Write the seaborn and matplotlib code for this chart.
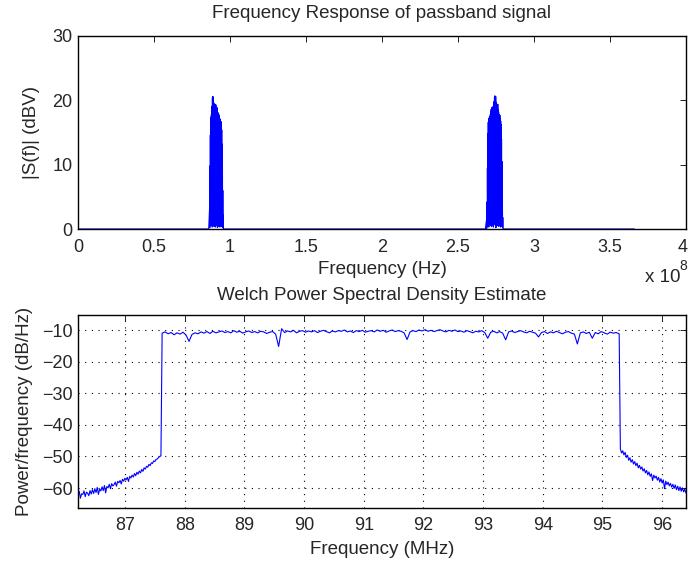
import numpy as np
import pandas as pd
import seaborn as sns
import matplotlib.pyplot as plt
from matplotlib.transforms import ScaledTranslation

sns.set_style('white')
plt.rcParams['font.family'] = ['Liberation Sans', 'DejaVu Sans']
plt.rcParams['font.size'] = 13.5

BLUE = '#0000ff'

# --- top panel: magnitude spectrum of the passband signal (freq in units of 1e8 Hz) ---
band1_f = np.linspace(0.866, 0.956, 80)
band1_hi = [3.5, 9.8, 14.6, 16.9, 17.4, 17.8, 18.3, 19.1, 20.4, 20.6, 20.1, 20.5, 19.6, 19.2,
            18.7, 19.4, 18.5, 18.9, 19.3, 18.8, 18.2, 18.9, 18.6, 17.8, 18.1, 17.5, 17.9, 17.2,
            17.6, 17.0, 16.8, 17.1, 16.5, 16.7, 16.1, 15.4, 13.2, 10.1, 6.0, 2.2]
band1_lo = [0.2, 0.8, 1.9, 0.5, 2.8, 0.9, 1.4, 0.3, 2.5, 1.1, 0.6, 2.2, 0.4, 1.7, 0.9, 2.9,
            0.3, 1.2, 0.7, 2.4, 0.5, 1.5, 0.2, 2.0, 1.0, 0.4, 2.6, 0.8, 1.3, 0.3, 1.9, 0.6,
            1.1, 0.4, 1.6, 0.7, 0.3, 0.9, 0.2, 0.1]

band2_f = np.linspace(2.688, 2.796, 80)
band2_hi = [1.5, 4.2, 9.5, 14.8, 16.6, 17.2, 17.0, 17.5, 17.3, 17.8, 18.2, 18.6, 18.4, 18.9,
            18.5, 19.0, 18.7, 19.2, 19.8, 20.4, 20.7, 20.1, 20.6, 19.7, 19.3, 19.0, 18.8, 19.4,
            18.6, 18.2, 17.8, 17.5, 17.7, 17.1, 16.8, 16.2, 14.0, 10.5, 5.8, 1.8]
band2_lo = [0.1, 0.4, 1.2, 0.6, 2.1, 0.3, 1.6, 0.8, 2.7, 0.5, 1.0, 2.3, 0.4, 1.8, 0.7, 2.5,
            0.3, 1.4, 0.9, 2.0, 0.6, 1.7, 0.2, 2.4, 0.8, 0.5, 2.9, 0.7, 1.1, 0.4, 2.2, 0.6,
            1.3, 0.3, 1.5, 0.8, 0.4, 0.6, 0.2, 0.1]

base_f = [0.0, 0.86, 0.96, 2.68, 2.80, 3.66]

# --- bottom panel: Welch PSD estimate (MHz, dB/Hz) ---
skirt_l_f = np.linspace(86.21, 87.60, 70)
skirt_l = [-62.5, -61.0, -63.2, -61.8, -62.0, -60.9, -62.7, -61.3, -61.6, -62.4,
           -60.8, -61.9, -60.5, -61.7, -60.2, -61.4, -59.8, -62.0, -60.3, -60.9,
           -59.6, -60.8, -59.2, -61.5, -59.5, -59.9, -58.8, -60.2, -58.6, -59.3,
           -58.9, -58.1, -59.4, -57.9, -58.3, -57.6, -58.7, -57.2, -57.8, -56.9,
           -57.4, -56.6, -57.9, -56.3, -56.8, -55.9, -56.5, -55.4, -56.1, -55.0,
           -55.6, -54.6, -55.2, -54.1, -54.7, -53.6, -54.0, -53.1, -53.4, -52.5,
           -52.9, -52.0, -52.2, -51.4, -51.6, -50.9, -50.8, -50.3, -50.0, -49.8]

pass_f = np.linspace(87.62, 95.28, 154)
passband = [-11.0, -10.6, -11.2, -10.8, -11.5, -10.9, -11.3, -10.7, -11.6, -13.6,
            -11.4, -10.9, -11.2, -10.6, -11.0, -10.5, -11.1, -10.4, -10.9, -10.6,
            -10.3, -10.8, -10.5, -10.9, -10.2, -10.7, -10.4, -11.0, -10.6, -10.3,
            -10.8, -10.5, -10.9, -10.4, -10.6, -11.1, -10.7, -10.5, -11.3, -15.2,
            -9.6, -10.8, -10.3, -10.6, -10.1, -10.9, -10.4, -10.2, -10.7, -10.3,
            -10.6, -10.2, -10.8, -10.4, -10.1, -10.5, -10.9, -10.3, -10.6, -10.2,
            -10.4, -10.0, -10.6, -10.3, -10.8, -10.2, -10.5, -10.1, -10.7, -10.4,
            -10.2, -10.6, -10.0, -10.4, -10.1, -10.7, -10.3, -10.0, -10.5, -10.2,
            -10.4, -10.9, -13.0, -10.6, -10.2, -10.5, -10.0, -10.3, -9.9, -10.4,
            -10.1, -10.5, -10.2, -9.9, -10.3, -10.6, -10.1, -10.4, -10.0, -10.5,
            -10.3, -10.7, -10.2, -10.5, -10.9, -10.4, -10.6, -10.2, -10.8, -12.6,
            -10.7, -10.4, -10.9, -10.5, -11.0, -13.1, -10.6, -10.3, -10.8, -10.5,
            -10.2, -10.6, -10.9, -10.4, -10.7, -11.0, -12.2, -10.8, -10.5, -11.1,
            -10.6, -10.9, -10.4, -10.8, -11.2, -10.7, -10.5, -11.0, -11.3, -14.4,
            -10.9, -10.6, -11.1, -10.7, -12.6, -10.8, -11.2, -10.5, -10.9, -11.3,
            -10.7, -11.0, -10.8, -11.2]

skirt_r_f = np.linspace(95.30, 96.40, 56)
skirt_r = [-47.6, -48.9, -48.2, -49.5, -48.7, -50.3, -49.6, -51.2, -50.4, -51.8,
           -51.0, -52.4, -51.6, -52.9, -52.1, -53.6, -52.8, -54.0, -53.3, -54.6,
           -53.9, -55.2, -54.4, -55.8, -54.9, -56.3, -55.5, -57.6, -55.9, -56.8,
           -56.2, -57.5, -56.6, -58.1, -57.0, -58.4, -57.4, -60.2, -57.8, -58.9,
           -58.1, -59.3, -58.5, -59.7, -58.8, -60.1, -59.0, -60.5, -59.4, -60.8,
           -59.6, -61.0, -59.9, -61.2, -60.3, -61.6]

# build the tables
b1 = np.column_stack([band1_hi, band1_lo]).ravel()
b2 = np.column_stack([band2_hi, band2_lo]).ravel()
spec = pd.DataFrame({
    'f': np.concatenate([base_f[:2], band1_f, base_f[2:4], band2_f, base_f[4:]]),
    'mag': np.concatenate([[0, 0], b1, [0, 0], b2, [0, 0]]),
})
psd = pd.DataFrame({
    'f': np.concatenate([skirt_l_f, pass_f, skirt_r_f]),
    'p': np.concatenate([skirt_l, passband, skirt_r]),
})

W, H = 689, 562
fig = plt.figure(figsize=(W / 100, H / 100), dpi=100)
ax1 = fig.add_axes([78 / W, 1 - 229 / H, 608 / W, 193 / H])
ax2 = fig.add_axes([78 / W, 1 - 507.7 / H, 608 / W, 192.4 / H])

sns.lineplot(data=spec, x='f', y='mag', ax=ax1, color=BLUE, lw=0.8,
             estimator=None, sort=False)
ax1.set_xlim(0, 4)
ax1.set_ylim(0, 30)
ax1.set_xticks(np.arange(0, 4.01, 0.5))
ax1.set_xticklabels(['0', '0.5', '1', '1.5', '2', '2.5', '3', '3.5', '4'])
ax1.set_yticks([0, 10, 20, 30])
ax1.set_title('Frequency Response of passband signal', fontsize=13.5, pad=13)
ax1.set_xlabel('Frequency (Hz)', labelpad=4)
ax1.set_ylabel('|S(f)| (dBV)', labelpad=9)
fig.text(645 / W, 1 - 277 / H, 'x 10', fontsize=13.5, va='center', ha='left')
fig.text(679 / W, 1 - 266 / H, '8', fontsize=10, va='center', ha='left')

sns.lineplot(data=psd, x='f', y='p', ax=ax2, color=BLUE, lw=0.8,
             estimator=None, sort=False)
ax2.set_xlim(86.21, 96.40)
ax2.set_ylim(-66.2, -5.35)
ax2.set_xticks(range(87, 97))
ax2.set_yticks(range(-60, -9, 10))
ax2.grid(True, color='black', linestyle=(0, (1, 5)), linewidth=0.8)
ax2.set_title('Welch Power Spectral Density Estimate', fontsize=13.5, pad=11)
ax2.set_xlabel('Frequency (MHz)', labelpad=5)
ax2.set_ylabel('Power/frequency (dB/Hz)', labelpad=6)

for ax in (ax1, ax2):
    ax.tick_params(direction='in', top=True, right=True, length=4, width=0.6,
                   labelsize=13, color='black')
    ax.tick_params(axis='x', pad=7)
    ax.tick_params(axis='y', pad=4)
    for s in ax.spines.values():
        s.set_color('black')
        s.set_linewidth(1.0)

# keep the last top tick label inside the canvas
last = ax1.get_xticklabels()[-1]
last.set_transform(last.get_transform() + ScaledTranslation(-3 / 100, 0, fig.dpi_scale_trans))

fig.savefig('out.png', dpi=100)
